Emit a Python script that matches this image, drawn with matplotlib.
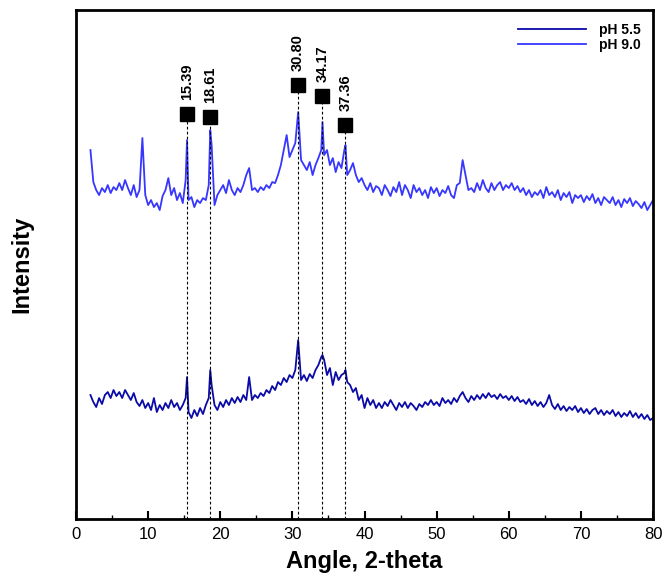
import numpy as np
import matplotlib
matplotlib.use('Agg')
from matplotlib import pyplot as plt

plt.rcParams['font.family'] = ['Liberation Sans', 'DejaVu Sans']

##

# 2-theta sampling of the traces (every 0.4 deg from 2 to 80)
two_theta = np.arange(2.0, 80.01, 0.4)

# pH 9.0 trace (upper), arbitrary intensity units
ph90 = [369, 337, 329, 324, 331, 327, 334, 326, 332, 329,
        336, 329, 339, 331, 324, 334, 322, 329, 381, 324,
        314, 319, 312, 316, 309, 323, 329, 341, 324, 331,
        319, 326, 316, 339, 319, 322, 312, 319, 316, 321,
        319, 334, 374, 314, 324, 329, 334, 326, 339, 329,
        324, 331, 327, 334, 344, 351, 329, 331, 327, 332,
        329, 334, 331, 337, 336, 344, 354, 369, 384, 362,
        369, 376, 407, 359, 354, 349, 357, 344, 354, 361,
        369, 364, 369, 354, 361, 347, 357, 351, 369, 344,
        349, 356, 344, 337, 341, 334, 329, 336, 327, 333,
        331, 324, 334, 329, 323, 332, 327, 337, 324, 334,
        329, 321, 334, 327, 331, 324, 329, 321, 332, 326,
        331, 323, 329, 326, 333, 324, 321, 334, 336, 359,
        344, 329, 331, 327, 336, 329, 339, 331, 327, 336,
        329, 334, 337, 329, 334, 331, 336, 329, 333, 327,
        331, 324, 329, 322, 327, 324, 329, 321, 332, 324,
        327, 322, 329, 319, 326, 322, 327, 316, 324, 321,
        324, 317, 323, 319, 325, 316, 321, 314, 322, 319,
        316, 322, 314, 319, 312, 320, 316, 321, 313, 318,
        315, 311, 317, 309, 314, 319]

# pH 5.5 trace (lower)
ph55 = [124, 117, 112, 121, 115, 124, 127, 121, 129, 123,
        127, 121, 129, 124, 119, 126, 117, 113, 119, 111,
        116, 109, 121, 107, 114, 109, 116, 111, 119, 112,
        116, 109, 114, 121, 107, 101, 109, 103, 111, 105,
        114, 121, 134, 114, 109, 117, 112, 119, 114, 121,
        116, 122, 117, 124, 119, 142, 119, 124, 121, 126,
        123, 129, 126, 133, 129, 137, 134, 141, 137, 144,
        141, 149, 179, 139, 144, 138, 145, 141, 149, 154,
        162, 159, 144, 151, 134, 147, 139, 144, 146, 137,
        134, 127, 131, 119, 124, 111, 121, 114, 119, 111,
        116, 111, 117, 113, 119, 114, 109, 116, 112, 117,
        111, 116, 113, 109, 115, 112, 117, 114, 119, 114,
        117, 113, 121, 116, 119, 115, 121, 117, 123, 127,
        121, 117, 123, 119, 124, 120, 125, 121, 126, 122,
        124, 120, 125, 121, 123, 119, 123, 118, 122, 117,
        119, 115, 120, 114, 118, 113, 117, 112, 116, 124,
        114, 110, 115, 109, 113, 108, 112, 109, 113, 107,
        111, 106, 110, 105, 109, 111, 105, 109, 104, 108,
        105, 109, 103, 107, 102, 106, 103, 108, 102, 106,
        101, 105, 100, 104, 99, 101]

# sharp reflections that fall between grid points
peak_pos = [15.39, 18.61, 34.17, 37.36]
ph90_peak = [379, 389, 397, 374]
ph55_peak = [142, 149, 164, 149]

# marked reflections
mark_pos = [15.39, 18.61, 30.80, 34.17, 37.36]
mark_lab = ['15.39', '18.61', '30.80', '34.17', '37.36']
mark_int = [405, 402, 434, 423, 394]

##

def merge(x, y, px, py):
    xx = np.concatenate([x, px])
    yy = np.concatenate([y, py])
    order = np.argsort(xx)
    return xx[order], yy[order]

x90, y90 = merge(two_theta, ph90, peak_pos, ph90_peak)
x55, y55 = merge(two_theta, ph55, peak_pos, ph55_peak)

fig = plt.figure(figsize=(6.64, 5.77), dpi=100)
ax = fig.add_axes([0.1145, 0.1005, 0.869, 0.882])

ax.plot(x55, y55, color='#0a0aa8', lw=1.3, label='pH 5.5')
ax.plot(x90, y90, color='#3636ff', lw=1.3, label='pH 9.0')

ax.vlines(mark_pos, 0, mark_int, colors='black', lw=0.8, linestyles=(0, (2.5, 2)))
ax.plot(mark_pos, mark_int, 's', color='black', ms=10)
for xp, yp, lab in zip(mark_pos, mark_int, mark_lab):
    ax.annotate(lab, (xp, yp), xytext=(0, 10), textcoords='offset points',
                rotation=90, ha='center', va='bottom', fontsize=10.5, fontweight='bold')

ax.set_xlim(0, 80)
ax.set_ylim(0, 509)
ax.set_xticks(np.arange(0, 81, 10))
ax.set_xticks(np.arange(5, 80, 10), minor=True)
ax.set_yticks([])
ax.tick_params(axis='x', which='major', direction='in', length=6, width=1.5, labelsize=12, pad=6)
ax.tick_params(axis='x', which='minor', direction='in', length=3, width=1.0)
for s in ax.spines.values():
    s.set_linewidth(2)

ax.set_xlabel('Angle, 2-theta', fontsize=17, fontweight='bold')
ax.xaxis.set_label_coords(0.5, -0.061)
ax.set_ylabel('Intensity', fontsize=17, fontweight='bold')
ax.yaxis.set_label_coords(-0.074, 0.5)

leg = ax.legend(loc='upper right', frameon=False, prop={'weight': 'bold', 'size': 10},
                handlelength=4.9, borderaxespad=0.5, borderpad=0.4, labelspacing=0.1,
                handletextpad=0.9)

fig.savefig('out.png', dpi=100)
